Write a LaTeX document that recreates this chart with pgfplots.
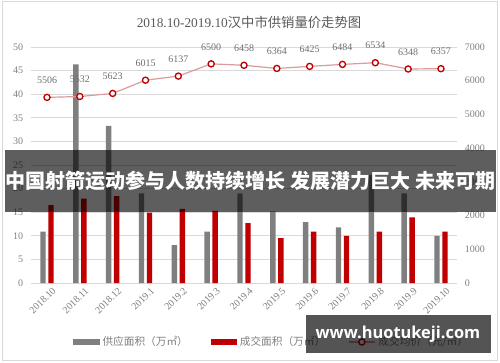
\documentclass[border=0pt]{standalone}
\usepackage{pgfplots}
\pgfplotsset{compat=1.18}
\usepackage{fontspec}
\setmainfont{Liberation Serif}
\newfontfamily\cjk{Noto Sans CJK SC}
\newfontfamily\wm{Open Sans}
\definecolor{barGray}{HTML}{7F7F7F}
\definecolor{barRed}{HTML}{C00000}
\definecolor{lineRed}{HTML}{DC9A9A}
\definecolor{gridGray}{HTML}{D9D9D9}
\definecolor{tickGray}{HTML}{7F7F7F}
\definecolor{labGray}{HTML}{6E6E6E}
\definecolor{titleGray}{HTML}{595959}
\pgfplotsset{/pgf/number format/1000 sep={}}
\begin{document}
\begin{tikzpicture}
\useasboundingbox (0,0) rectangle (375pt,271.5pt);
\draw[gridGray, line width=0.75pt] (1.5pt,1.5pt) rectangle (372.75pt,270.75pt);
\node[text=titleGray, inner sep=0pt] at (186.75pt,255pt) {\fontsize{10}{12}\selectfont 2018.10-2019.10{\cjk 汉中市供销量价走势图}};
\begin{axis}[
  at={(22.95pt,59.25pt)}, anchor=south west,
  scale only axis, width=320.1pt, height=177pt,
  xmin=-0.5, xmax=12.5, ymin=0, ymax=50,
  xtick={0,...,12},
  xticklabels={2018.10,2018.11,2018.12,2019.1,2019.2,2019.3,2019.4,2019.5,2019.6,2019.7,2019.8,2019.9,2019.10},
  ytick={0,5,...,50},
  ymajorgrids, grid style={gridGray, line width=0.75pt},
  axis line style={draw=none},
  major tick length=0pt,
  tick label style={font=\fontsize{7.5}{9}\selectfont, text=tickGray},
  /pgf/number format/assume math mode=true,
  yticklabel style={xshift=-2pt},
  x tick label style={rotate=45, anchor=north east, xshift=4pt, yshift=-1pt},
  ybar, bar width=4.1pt,
  clip=false,
]
\addplot[fill=barGray, draw=none, bar shift=-3pt] coordinates {
(0,10.9) (1,46.3) (2,33.3) (3,19.0) (4,8.0) (5,10.9) (6,19.0) (7,15.2) (8,12.9) (9,11.8) (10,22.9) (11,19.0) (12,10.0)};
\addplot[fill=barRed, draw=none, bar shift=3pt] coordinates {
(0,16.5) (1,17.9) (2,18.4) (3,14.9) (4,15.7) (5,15.3) (6,12.7) (7,9.5) (8,10.9) (9,10.0) (10,10.9) (11,13.9) (12,10.9)};
\end{axis}
\begin{axis}[
  at={(22.95pt,59.25pt)}, anchor=south west,
  scale only axis, width=320.1pt, height=177pt,
  xmin=-0.5, xmax=12.5, ymin=0, ymax=7000,
  axis y line*=right, axis x line=none,
  ytick={0,1000,...,7000},
  scaled y ticks=false,
  axis line style={draw=none}, major tick length=0pt,
  yticklabel style={font=\fontsize{7.5}{9}\selectfont, text=tickGray, xshift=2pt},
  /pgf/number format/assume math mode=true,
  clip=false,
  legend columns=3,
  legend style={draw=none, fill=none, at={(0.0993,-0.25)}, anchor=west, inner sep=0pt,
    font=\cjk\fontsize{8}{10}\selectfont, text=tickGray,
    /tikz/every even column/.append style={column sep=15pt}},
]
\addlegendimage{fill=barGray, draw=none, legend image code/.code={\fill (0pt,-2.25pt) rectangle (20pt,2.25pt);}}
\addlegendentry{供应面积（万㎡）}
\addlegendimage{fill=barRed, draw=none, legend image code/.code={\fill (0pt,-2.25pt) rectangle (20pt,2.25pt);}}
\addlegendentry{成交面积（万㎡）}
\addplot[lineRed, line width=0.9pt, mark=*, mark size=2.3pt,
  mark options={fill=white, draw=barRed, line width=1pt},
  legend image code/.code={\draw[mark repeat=2,mark phase=2] plot coordinates {(0pt,0pt) (10pt,0pt) (20pt,0pt)};},
  nodes near coords,
  every node near coord/.append style={anchor=center, yshift=12.75pt, font=\fontsize{7.5}{9}\selectfont, text=labGray}]
 coordinates {
(0,5506) (1,5532) (2,5623) (3,6015) (4,6137) (5,6500) (6,6458) (7,6364) (8,6425) (9,6484) (10,6534) (11,6348) (12,6357)};
\addlegendentry{成交均价（元/㎡）}
\end{axis}
\fill[black, opacity=0.63] (3.75pt,112.5pt) rectangle (372pt,159pt);
\node[text=white, inner sep=0pt] at (187.9pt,135.75pt) {\cjk\bfseries\fontsize{15}{18}\selectfont 中国射箭运动参与人数持续增长 发展潜力巨大 未来可期};
\fill[black, opacity=0.67] (229.5pt,6.75pt) rectangle (368.25pt,35.25pt);
\node[text=white, inner sep=0pt] at (298.5pt,21pt) {\wm\bfseries\fontsize{12.3}{14}\selectfont www.huotukeji.com};
\end{tikzpicture}
\end{document}
